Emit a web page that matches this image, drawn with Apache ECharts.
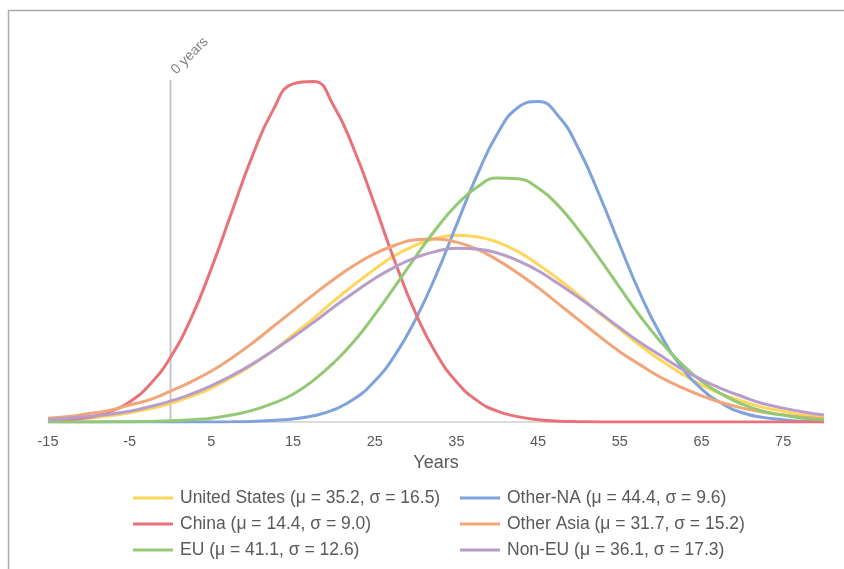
<!DOCTYPE html>
<html lang="en">

<head>
  <meta charset="UTF-8">
  <title>Age distributions</title>
  <style>
    html, body { margin: 0; padding: 0; background: #fff; }
    #chart { width: 844px; height: 569px; }
  </style>
</head>

<body>
  <div id="chart"></div>
</body>
<script src="https://cdn.jsdelivr.net/npm/echarts@6/dist/echarts.min.js"></script>
<script>
  var years = [-15, -12.5, -10, -7.5, -5, -2.5, 0, 2.5, 5, 7.5, 10, 12.5, 15, 17.5, 20, 22.5, 25, 27.5, 30, 32.5,
    35, 37.5, 40, 42.5, 45, 47.5, 50, 52.5, 55, 57.5, 60, 62.5, 65, 67.5, 70, 72.5, 75, 77.5, 80];

  // curve heights (density) read at each year above
  var usVals = [0.0002, 0.0004, 0.0005, 0.0008, 0.0012, 0.0017, 0.0024, 0.0033, 0.0044, 0.0058, 0.0074, 0.0092, 0.0113, 0.0134, 0.0157, 0.0178, 0.0198, 0.0216, 0.0229, 0.0238,
    0.0242, 0.0240, 0.0233, 0.0221, 0.0204, 0.0185, 0.0164, 0.0141, 0.0120, 0.0099, 0.0080, 0.0063, 0.0048, 0.0036, 0.0027, 0.0019, 0.0014, 0.0009, 0.0006];
  var otherNaVals = [0, 0, 0, 0, 0, 0, 0, 0, 0.00001, 0.00002, 0.00007, 0.0002, 0.0004, 0.0008, 0.0016, 0.0030, 0.0053, 0.0087, 0.0133, 0.0190,
    0.0255, 0.0319, 0.0373, 0.0407, 0.0415, 0.0396, 0.0353, 0.0294, 0.0229, 0.0166, 0.0113, 0.0072, 0.0043, 0.0024, 0.0012, 0.0006, 0.0003, 0.0001, 0.00004];
  var chinaVals = [0.0001, 0.0003, 0.0006, 0.0013, 0.0026, 0.0049, 0.0084, 0.0134, 0.0199, 0.0272, 0.0344, 0.0403, 0.0438, 0.0441, 0.0409, 0.0352, 0.0281, 0.0207, 0.0141, 0.0089,
    0.0052, 0.0028, 0.0014, 0.0007, 0.0003, 0.0001, 0.00004, 0, 0, 0, 0, 0, 0, 0, 0, 0, 0, 0, 0];
  var otherAsiaVals = [0.0005, 0.0007, 0.0011, 0.0015, 0.0022, 0.0029, 0.0040, 0.0052, 0.0066, 0.0083, 0.0102, 0.0123, 0.0144, 0.0165, 0.0185, 0.0203, 0.0218, 0.0229, 0.0236, 0.0237,
    0.0233, 0.0224, 0.0210, 0.0193, 0.0174, 0.0153, 0.0132, 0.0111, 0.0091, 0.0074, 0.0058, 0.0045, 0.0034, 0.0025, 0.0018, 0.0013, 0.0009, 0.0006, 0.0004];
  var euVals = [0, 0, 0.00001, 0.00002, 0.00004, 0.00008, 0.00015, 0.0003, 0.0005, 0.0009, 0.0015, 0.0024, 0.0036, 0.0054, 0.0077, 0.0105, 0.0139, 0.0176, 0.0214, 0.0250,
    0.0281, 0.0304, 0.0316, 0.0315, 0.0303, 0.0280, 0.0248, 0.0212, 0.0174, 0.0137, 0.0104, 0.0076, 0.0053, 0.0036, 0.0023, 0.0014, 0.0009, 0.0005, 0.0003];
  var nonEuVals = [0.0003, 0.0005, 0.0007, 0.0010, 0.0014, 0.0020, 0.0027, 0.0036, 0.0047, 0.0060, 0.0075, 0.0092, 0.0110, 0.0129, 0.0149, 0.0168, 0.0186, 0.0201, 0.0213, 0.0221,
    0.0225, 0.0224, 0.0219, 0.0209, 0.0196, 0.0179, 0.0161, 0.0142, 0.0122, 0.0103, 0.0086, 0.0069, 0.0055, 0.0043, 0.0033, 0.0024, 0.0018, 0.0013, 0.0009];

  var names = [
    'United States (μ = 35.2, σ = 16.5)',
    'Other-NA (μ = 44.4, σ = 9.6)',
    'China (μ = 14.4, σ = 9.0)',
    'Other Asia (μ = 31.7, σ = 15.2)',
    'EU (μ = 41.1, σ = 12.6)',
    'Non-EU (μ = 36.1, σ = 17.3)'
  ];
  var colors = ['#FFD65C', '#7FA2DC', '#E9727A', '#F3A57A', '#94C973', '#B69DCB'];
  var allVals = [usVals, otherNaVals, chinaVals, otherAsiaVals, euVals, nonEuVals];

  // vertical "0 years" marker
  var zeroYear = 0;
  var zeroTop = 0.0443;

  var font = '"Liberation Sans", Arial, sans-serif';

  function pairs(vals) {
    return years.map(function (x, i) { return [x, vals[i]]; });
  }

  var series = [{
    name: 'zero',
    type: 'line',
    data: [[zeroYear, 0], [zeroYear, zeroTop]],
    symbol: 'none',
    silent: true,
    lineStyle: { color: '#c6c6c6', width: 2 },
    z: 1
  }];
  names.forEach(function (n, i) {
    series.push({
      name: n,
      type: 'line',
      data: pairs(allVals[i]),
      smooth: true,
      symbol: 'none',
      lineStyle: { color: colors[i], width: 3 },
      itemStyle: { color: colors[i] },
      z: 2
    });
  });

  var legendCommon = {
    orient: 'vertical',
    top: 483,
    icon: 'rect',
    itemWidth: 40,
    itemHeight: 3,
    itemGap: 6,
    selectedMode: false,
    textStyle: { fontFamily: font, fontSize: 17.5, color: '#595959', lineHeight: 20, padding: [0, 0, 0, 2] }
  };

  var chart = echarts.init(document.getElementById('chart'));
  chart.setOption({
    animation: false,
    backgroundColor: '#fff',
    grid: { left: 48, right: 20, top: 36, bottom: 147 },
    xAxis: {
      type: 'value',
      min: -15,
      max: 80,
      interval: 10,
      name: 'Years',
      nameLocation: 'middle',
      nameGap: 29,
      nameTextStyle: { fontFamily: font, fontSize: 18, color: '#595959' },
      axisLine: { lineStyle: { color: '#cfcfcf', width: 1.5 } },
      axisTick: { show: false },
      splitLine: { show: false },
      axisLabel: { fontFamily: font, fontSize: 14.5, color: '#595959', margin: 12, showMaxLabel: false }
    },
    yAxis: {
      type: 'value',
      min: 0,
      max: 0.05,
      show: false
    },
    legend: [
      Object.assign({ left: 128, data: [names[0], names[2], names[4]] }, legendCommon),
      Object.assign({ left: 455, data: [names[1], names[3], names[5]] }, legendCommon)
    ],
    series: series
  });

  // frame and rotated marker label
  var p = chart.convertToPixel({ gridIndex: 0 }, [zeroYear, zeroTop]);
  chart.setOption({
    graphic: [
      {
        type: 'rect',
        silent: true,
        shape: { x: 8.5, y: 10.5, width: 900, height: 600 },
        style: { fill: null, stroke: '#ababab', lineWidth: 1.5 }
      },
      {
        type: 'text',
        silent: true,
        x: p[0] + 8,
        y: p[1] - 3,
        rotation: Math.PI / 4,
        style: {
          text: '0 years',
          fontFamily: font,
          fontSize: 14,
          fill: '#7f7f7f',
          align: 'left',
          verticalAlign: 'bottom'
        }
      }
    ]
  });
</script>

</html>
